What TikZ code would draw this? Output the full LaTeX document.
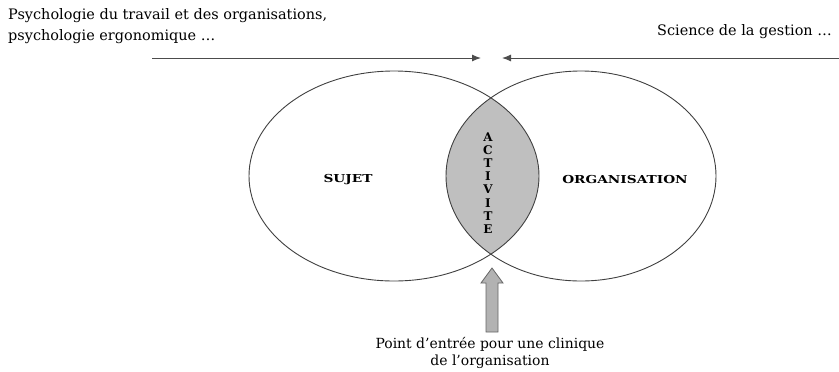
\documentclass[tikz,border=0pt]{standalone}
\usepackage{fontspec}
\setmainfont{DejaVu Serif}
\usetikzlibrary{arrows.meta}

\tikzset{
  texte/.style={font=\fontsize{14.5}{21}\selectfont,inner sep=0pt},
  pole/.style={font=\fontsize{11}{12}\selectfont\bfseries,inner sep=0pt,xscale=1.25},
  trait/.style={draw=black!75,line width=0.9bp},
  fleche/.style={draw=black!70,line width=1bp,-{Latex[length=9bp,width=7bp]}},
}

\begin{document}
\begin{tikzpicture}[x=1bp,y=-1bp]
\useasboundingbox (0,0) rectangle (839,371);

\begin{scope}

\coordinate (s) at (394,176);
\coordinate (o) at (581,176);

% zone commune : activite
\begin{scope}
\clip (s) ellipse [x radius=145,y radius=105];
\fill[black!25] (o) ellipse [x radius=135,y radius=105];
\end{scope}

\draw[trait] (s) ellipse [x radius=145,y radius=105];
\draw[trait] (o) ellipse [x radius=135,y radius=105];

\node[pole] (sujet) at (348,180) {SUJET};
\node[pole] (orga) at (625,180) {ORGANISATION};
\node[pole,xscale=0.8,align=center,font=\fontsize{12}{13.2}\selectfont\bfseries] (act) at (488,183)
  {A\\C\\T\\I\\V\\I\\T\\E};
\end{scope}

% disciplines
\node[texte,anchor=north west,align=left] (psy) at (8,8)
  {Psychologie du travail et des organisations,\\psychologie ergonomique \dots};
\node[texte,anchor=north east] (ges) at (832,24) {Science de la gestion \dots};

\coordinate (g0) at (152,58);
\coordinate (g1) at (481,58);
\coordinate (d0) at (839,58);
\coordinate (d1) at (502,58);
\draw[fleche] (g0) -- (g1);
\draw[fleche] (d0) -- (d1);

% point d'entree
\coordinate (p) at (492,268);
\draw[draw=black!60,fill=black!30,line width=0.8bp]
  (p) -- ++(11,15) -- ++(-5,0) -- ++(0,49) -- ++(-12,0) -- ++(0,-49) -- ++(-5,0) -- cycle;
\node[texte,anchor=north,align=center,font=\fontsize{14}{17}\selectfont] (clin) at (490,337)
  {Point d’entrée pour une clinique\\de l’organisation};

\end{tikzpicture}
\end{document}
